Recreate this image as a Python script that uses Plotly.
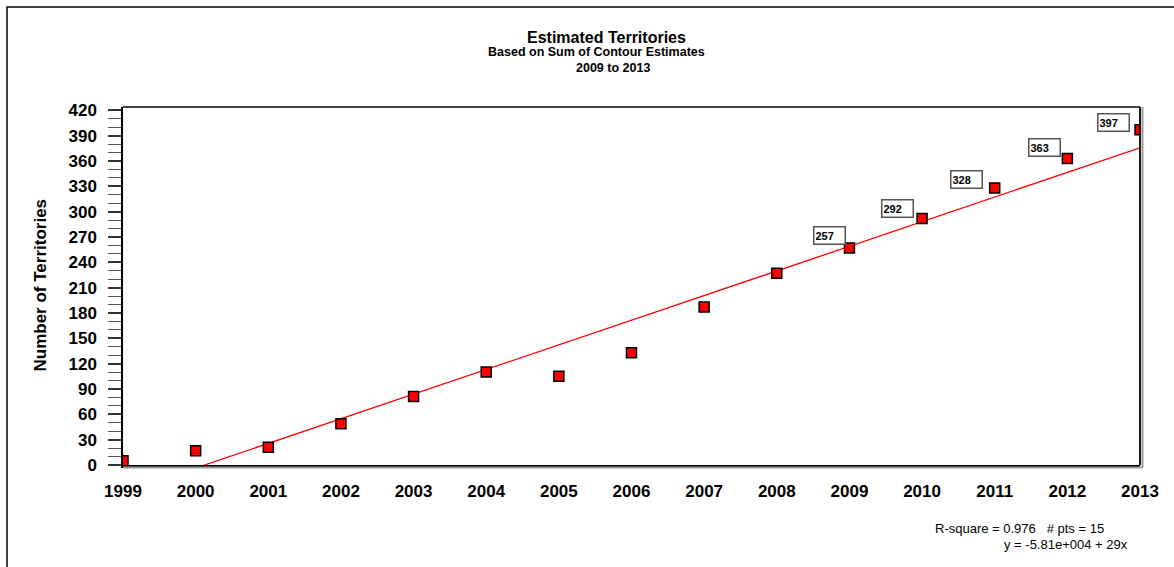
import numpy as np
import plotly.graph_objects as go

# Survey years and estimated number of territories per year
years = [1999, 2000, 2001, 2002, 2003, 2004, 2005, 2006, 2007,
         2008, 2009, 2010, 2011, 2012, 2013]
territories = [5, 17, 21, 49, 81, 110, 105, 133, 187,
               227, 257, 292, 328, 363, 397]

# Years whose value is written in a callout box
labelled_years = [2009, 2010, 2011, 2012, 2013]

# Axis ticks
y_ticks = list(range(0, 421, 30))
x_ticks = years

# Callout box offsets (pixels) relative to each point
label_dx = [-3, -8, -12, -6, -10]
label_dy = [3, 0, -1, 2, -2]

FONT = "Arial, Liberation Sans, sans-serif"

# Least-squares trend line through all points
slope, intercept = np.polyfit(years, territories, 1)
trend_x = [years[0], years[-1]]
trend_y = [intercept + slope * x for x in trend_x]

fig = go.Figure()

fig.add_trace(go.Scatter(
    x=trend_x, y=trend_y, mode="lines",
    line=dict(color="#ff0000", width=1.3),
    hoverinfo="skip", showlegend=False,
))

fig.add_trace(go.Scatter(
    x=years, y=territories, mode="markers",
    marker=dict(symbol="square", size=10, color="#ff0000",
                line=dict(color="#000000", width=1.5)),
    showlegend=False,
))

# Boxed value callouts
for yr, dx, dy in zip(labelled_years, label_dx, label_dy):
    val = territories[years.index(yr)]
    fig.add_annotation(
        x=yr, y=val, xref="x", yref="y",
        text=f"<b>{val}</b>", showarrow=False,
        xanchor="right", yanchor="bottom", xshift=dx, yshift=dy,
        width=28, height=14, align="left", valign="middle",
        bgcolor="white", bordercolor="#555555", borderwidth=1.5, borderpad=1,
        font=dict(family=FONT, size=11, color="black"),
    )

# Titles
fig.add_annotation(x=0.4759, y=1.1941, xref="paper", yref="paper",
                   text="<b>Estimated Territories</b>", showarrow=False,
                   xanchor="center", yanchor="middle",
                   font=dict(family=FONT, size=16, color="black"))
fig.add_annotation(x=0.4656, y=1.1536, xref="paper", yref="paper",
                   text="<b>Based on Sum of Contour Estimates</b>", showarrow=False,
                   xanchor="center", yanchor="middle",
                   font=dict(family=FONT, size=12.5, color="black"))
fig.add_annotation(x=0.4823, y=1.1089, xref="paper", yref="paper",
                   text="<b>2009 to 2013</b>", showarrow=False,
                   xanchor="center", yanchor="middle",
                   font=dict(family=FONT, size=12.5, color="black"))

# Y axis title
fig.add_annotation(x=-0.0816, y=0.5014, xref="paper", yref="paper",
                   text="<b>Number of Territories</b>", showarrow=False,
                   textangle=-90, xanchor="center", yanchor="middle",
                   font=dict(family=FONT, size=17, color="black"))

# Fit statistics
fig.add_annotation(x=0.7965, y=-0.176, xref="paper", yref="paper",
                   text="R-square = 0.976\u00a0\u00a0\u00a0# pts = 15", showarrow=False,
                   xanchor="left", yanchor="middle",
                   font=dict(family=FONT, size=13, color="black"))
fig.add_annotation(x=0.8643, y=-0.2207, xref="paper", yref="paper",
                   text="y = -5.81e+004 + 29x", showarrow=False,
                   xanchor="left", yanchor="middle",
                   font=dict(family=FONT, size=13, color="black"))

px_w, px_h = 1017, 358
shapes = [
    # outer frame
    dict(type="rect", xref="paper", yref="paper",
         x0=(7 - 123) / px_w, x1=1.2, y0=-0.6, y1=(465 - 7) / px_h,
         line=dict(color="black", width=1.5), fillcolor="rgba(0,0,0,0)", layer="below"),
    # right and bottom shadows
    dict(type="line", xref="paper", yref="paper",
         x0=1 + 2.5 / px_w, x1=1 + 2.5 / px_w, y0=-2.5 / px_h, y1=1,
         line=dict(color="#9a9a9a", width=2)),
    dict(type="line", xref="paper", yref="paper",
         x0=0, x1=1 + 3 / px_w, y0=-2.5 / px_h, y1=-2.5 / px_h,
         line=dict(color="#9a9a9a", width=2)),
    # top and right plot border
    dict(type="line", xref="paper", yref="paper",
         x0=0, x1=1, y0=1, y1=1, line=dict(color="black", width=1.5)),
    dict(type="line", xref="paper", yref="paper",
         x0=1, x1=1, y0=0, y1=1, line=dict(color="black", width=1.8)),
]

fig.update_layout(
    width=1174, height=567,
    margin=dict(l=123, r=34, t=107, b=102),
    paper_bgcolor="white", plot_bgcolor="white",
    shapes=shapes,
    xaxis=dict(
        range=[1999, 2013], tickmode="array", tickvals=x_ticks,
        ticktext=[str(y) for y in x_ticks],
        showgrid=False, zeroline=False, ticks="",
        showline=True, linecolor="black", linewidth=3,
        tickfont=dict(family=FONT, size=17, color="black", weight="bold"),
        ticklabelstandoff=9,
    ),
    yaxis=dict(
        range=[0, 424], tickmode="array", tickvals=y_ticks,
        showgrid=False, zeroline=False,
        ticks="outside", ticklen=13, tickwidth=1.5, tickcolor="#333333",
        minor=dict(tickmode="linear", tick0=0, dtick=10, ticks="outside",
                   ticklen=13, tickwidth=1.2, tickcolor="#555555", showgrid=False),
        showline=True, linecolor="black", linewidth=1.5,
        tickfont=dict(family=FONT, size=17, color="black", weight="bold"),
        ticklabelstandoff=8,
    ),
)

fig.write_html("out.html")
